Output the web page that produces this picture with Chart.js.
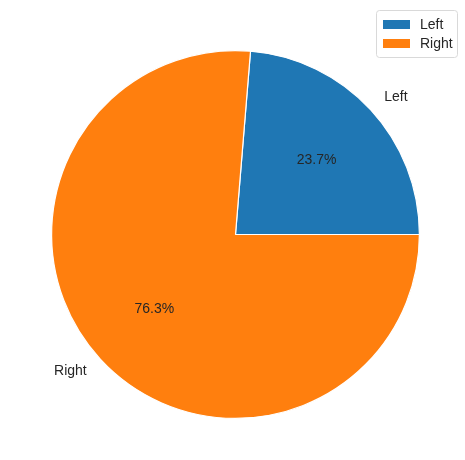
<!DOCTYPE html>
<html>
<head>
<meta charset="utf-8">
<script src="https://cdn.jsdelivr.net/npm/chart.js@4"></script>
<style>
  body { margin: 0; background: #fff; }
  #wrap { width: 465px; height: 460px; }
</style>
</head>
<body>
<div id="wrap"><canvas id="myChart"></canvas></div>
<script>
    var labels = ['Left', 'Right']
    var shares = [23.7, 76.3]
    var colors = ['#1f77b4', '#ff7f0e']
    var textColor = '#262626'
    var fontFamily = '"Liberation Sans", Arial, sans-serif'

    // matplotlib starts at 3 o'clock and goes counterclockwise
    var total = shares.reduce(function(a, b) { return a + b }, 0)
    var rotation = 90 - shares[0] / total * 360

    var pieLabels = {
        id: 'pieLabels',
        afterDatasetsDraw: function(chart) {
            var ctx = chart.ctx
            var arcs = chart.getDatasetMeta(0).data
            ctx.save()
            ctx.fillStyle = textColor
            ctx.textBaseline = 'middle'
            arcs.forEach(function(arc, i) {
                var mid = (arc.startAngle + arc.endAngle) / 2
                var r = arc.outerRadius
                var cx = Math.cos(mid), cy = Math.sin(mid)
                // percentage inside
                ctx.font = '14px ' + fontFamily
                ctx.textAlign = 'center'
                ctx.fillText((shares[i] / total * 100).toFixed(1) + '%', arc.x + cx * r * 0.6, arc.y + cy * r * 0.6)
                // category outside
                ctx.textAlign = cx >= 0 ? 'left' : 'right'
                ctx.fillText(labels[i], arc.x + cx * r * 1.1, arc.y + cy * r * 1.1)
            })
            ctx.restore()
        }
    }

    var boxLegend = {
        id: 'boxLegend',
        afterDraw: function(chart) {
            var ctx = chart.ctx
            var x = 376, y = 10, w = 81, h = 47
            ctx.save()
            ctx.beginPath()
            ctx.roundRect(x + 0.5, y + 0.5, w, h, 3)
            ctx.fillStyle = 'rgba(255,255,255,0.8)'
            ctx.fill()
            ctx.strokeStyle = '#d9d9d9'
            ctx.lineWidth = 1
            ctx.stroke()
            ctx.font = '14px ' + fontFamily
            ctx.textBaseline = 'middle'
            ctx.textAlign = 'left'
            labels.forEach(function(lab, i) {
                var ly = y + 14 + i * 19
                ctx.fillStyle = colors[i]
                ctx.fillRect(x + 7, ly - 4, 27, 9)
                ctx.fillStyle = textColor
                ctx.fillText(lab, x + 44, ly + 1)
            })
            ctx.restore()
        }
    }

    var ctx = document.getElementById('myChart').getContext('2d');
    var myChart = new Chart(ctx, {
        type: 'pie',
        data: {
            labels: labels,
            datasets: [{
                data: shares,
                backgroundColor: colors,
                borderColor: '#ffffff',
                borderWidth: 1.2
            }]
        },
        options: {
            responsive: true,
            maintainAspectRatio: false,
            animation: false,
            rotation: rotation,
            layout: {
                padding: { left: 51, right: 45, top: 50, bottom: 41 }
            },
            plugins: {
                legend: { display: false },
                tooltip: { enabled: false }
            }
        },
        plugins: [pieLabels, boxLegend]
    });
</script>
</body>
</html>
